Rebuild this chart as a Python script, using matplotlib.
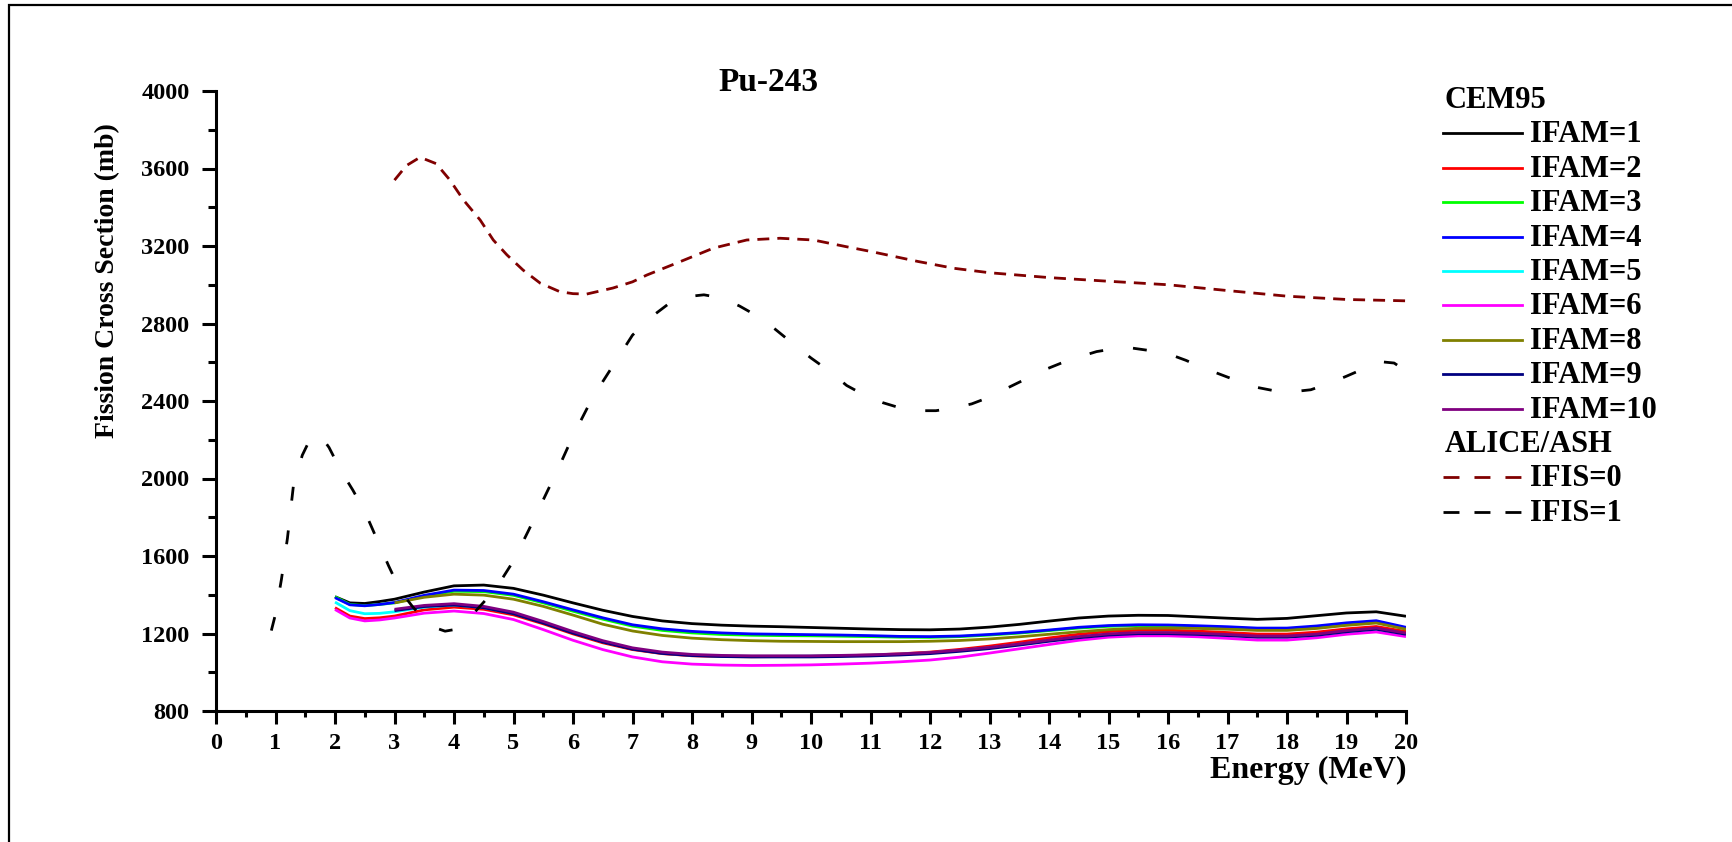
import matplotlib
matplotlib.use("Agg")
import matplotlib.pyplot as plt
import numpy as np
from matplotlib.lines import Line2D
from matplotlib.patches import Rectangle
from matplotlib.ticker import MultipleLocator

plt.rcParams['font.family'] = ['Liberation Serif', 'DejaVu Serif']
plt.rcParams['font.weight'] = 'bold'

# CEM95 energies (MeV): most runs start at 2 MeV, IFAM=8,9,10 at 3 MeV
e_from2 = [2.0, 2.25, 2.5, 2.75, 3.0, 3.5, 4.0, 4.5, 5.0, 5.5, 6.0, 6.5, 7.0, 7.5,
           8.0, 8.5, 9.0, 9.5, 10.0, 10.5, 11.0, 11.5, 12.0, 12.5, 13.0, 13.5, 14.0,
           14.5, 15.0, 15.5, 16.0, 16.5, 17.0, 17.5, 18.0, 18.5, 19.0, 19.5, 20.0]
e_from3 = e_from2[4:]

ifam1 = [1390, 1358, 1355, 1365, 1377, 1414, 1446, 1450, 1433, 1398, 1358, 1320, 1288, 1265,
         1251, 1243, 1238, 1235, 1231, 1227, 1223, 1220, 1219, 1223, 1233, 1247, 1264,
         1280, 1290, 1294, 1293, 1286, 1279, 1273, 1278, 1292, 1306, 1312, 1289]
ifam2 = [1333, 1290, 1277, 1281, 1290, 1322, 1336, 1325, 1296, 1250, 1198, 1152, 1117, 1096,
         1085, 1081, 1080, 1081, 1082, 1085, 1089, 1095, 1104, 1118, 1135, 1155, 1177,
         1196, 1210, 1217, 1217, 1212, 1205, 1197, 1197, 1207, 1224, 1236, 1210]
ifam3 = [1390, 1350, 1344, 1350, 1358, 1393, 1418, 1416, 1397, 1358, 1315, 1274, 1238, 1216,
         1203, 1195, 1191, 1189, 1188, 1186, 1184, 1181, 1180, 1184, 1192, 1202, 1215,
         1228, 1237, 1241, 1240, 1236, 1231, 1224, 1224, 1234, 1250, 1261, 1228]
ifam4 = [1385, 1348, 1343, 1350, 1360, 1397, 1424, 1422, 1403, 1364, 1322, 1281, 1245, 1224,
         1211, 1203, 1198, 1196, 1194, 1192, 1189, 1185, 1184, 1187, 1195, 1205, 1218,
         1232, 1241, 1245, 1244, 1240, 1235, 1228, 1228, 1239, 1255, 1266, 1232]
ifam5 = [1362, 1318, 1302, 1304, 1312, 1336, 1347, 1334, 1304, 1257, 1205, 1158, 1122, 1099,
         1088, 1083, 1082, 1082, 1083, 1085, 1088, 1093, 1100, 1112, 1126, 1144, 1163,
         1181, 1194, 1201, 1201, 1197, 1191, 1183, 1183, 1193, 1211, 1224, 1198]
ifam6 = [1324, 1280, 1265, 1270, 1280, 1305, 1316, 1303, 1272, 1220, 1165, 1117, 1079, 1054,
         1042, 1037, 1035, 1036, 1038, 1042, 1047, 1054, 1063, 1078, 1099, 1121, 1143,
         1165, 1181, 1188, 1188, 1183, 1175, 1166, 1166, 1178, 1196, 1208, 1184]
ifam8 = [1358, 1387, 1403, 1398, 1377, 1340, 1295, 1248, 1213, 1190,
         1176, 1168, 1163, 1160, 1159, 1158, 1158, 1158, 1160, 1164, 1172, 1183, 1196,
         1209, 1220, 1227, 1228, 1226, 1222, 1216, 1216, 1226, 1242, 1254, 1222]
ifam9 = [1318, 1339, 1347, 1333, 1302, 1254, 1202, 1156, 1119, 1097,
         1086, 1081, 1079, 1079, 1079, 1081, 1084, 1089, 1096, 1108, 1122, 1140, 1160,
         1178, 1192, 1199, 1199, 1195, 1189, 1181, 1181, 1191, 1209, 1222, 1196]
ifam10 = [1325, 1345, 1354, 1340, 1310, 1262, 1210, 1163, 1126, 1104,
          1092, 1087, 1085, 1085, 1085, 1087, 1090, 1095, 1102, 1114, 1128, 1146, 1166,
          1184, 1198, 1205, 1205, 1201, 1195, 1187, 1187, 1197, 1215, 1228, 1202]

# ALICE/ASH
e_ifis0 = [3.0, 3.2, 3.43, 3.7, 3.93, 4.16, 4.44, 4.66, 4.89, 5.16, 5.45, 5.78, 6.0, 6.23,
           6.67, 7.0, 7.24, 7.8, 8.36, 8.92, 9.48, 10.04, 10.6, 11.0, 11.8, 12.4, 13.0,
           14.0, 15.0, 16.0, 17.0, 18.0, 19.0, 20.0]
ifis0 = [3540, 3615, 3658, 3625, 3541, 3437, 3334, 3231, 3154, 3076, 3008, 2964, 2954, 2952,
         2983, 3015, 3050, 3119, 3189, 3231, 3240, 3231, 3196, 3172, 3120, 3085, 3062,
         3037, 3018, 3000, 2970, 2941, 2924, 2917]

e_ifis1 = [0.93, 1.0, 1.1, 1.2, 1.3, 1.45, 1.6, 1.75, 1.9, 2.1, 2.3, 2.5, 2.7, 2.9, 3.1, 3.3,
           3.5, 3.7, 3.85, 4.0, 4.2, 4.45, 4.7, 5.0, 5.25, 5.5, 5.75, 6.0, 6.25, 6.5, 6.75,
           7.0, 7.3, 7.6, 7.9, 8.2, 8.5, 8.8, 9.1, 9.4, 9.7, 10.0, 10.3, 10.6, 10.9, 11.2,
           11.5, 11.8, 12.1, 12.4, 12.7, 13.0, 13.3, 13.6, 13.9, 14.2, 14.5, 14.8, 15.1,
           15.4, 15.7, 16.0, 16.3, 16.6, 16.9, 17.2, 17.5, 17.8, 18.1, 18.4, 18.7, 19.0,
           19.3, 19.6, 19.8, 20.0]
ifis1 = [1215, 1300, 1480, 1690, 1960, 2120, 2215, 2225, 2160, 2040, 1940, 1830, 1690, 1550,
         1420, 1340, 1270, 1228, 1212, 1220, 1260, 1345, 1430, 1575, 1730, 1890, 2050,
         2220, 2370, 2500, 2620, 2740, 2830, 2900, 2938, 2948, 2932, 2890, 2838, 2770,
         2695, 2622, 2556, 2480, 2430, 2392, 2364, 2350, 2350, 2364, 2385, 2420, 2467,
         2512, 2558, 2595, 2627, 2655, 2670, 2673, 2660, 2644, 2610, 2570, 2535, 2500,
         2470, 2452, 2448, 2458, 2490, 2528, 2568, 2602, 2596, 2555]

cem_series = [
    ("IFAM=1", e_from2, ifam1, "#000000"),
    ("IFAM=2", e_from2, ifam2, "#FF0000"),
    ("IFAM=3", e_from2, ifam3, "#00FF00"),
    ("IFAM=4", e_from2, ifam4, "#0000FF"),
    ("IFAM=5", e_from2, ifam5, "#00FFFF"),
    ("IFAM=6", e_from2, ifam6, "#FF00FF"),
    ("IFAM=8", e_from3, ifam8, "#808000"),
    ("IFAM=9", e_from3, ifam9, "#000080"),
    ("IFAM=10", e_from3, ifam10, "#800080"),
]
alice_series = [
    ("IFIS=0", e_ifis0, ifis0, "#800000", (0, (4.3, 2.9))),
    ("IFIS=1", e_ifis1, ifis1, "#000000", (0, (5, 10.8))),
]

W, H = 1733, 842
fig = plt.figure(figsize=(W / 100, H / 100), dpi=100)
ax = fig.add_axes([216 / W, 1 - 711 / H, 1190 / W, 620 / H])

for label, x, y, c in cem_series:
    ax.plot(x, y, color=c, lw=2.0, solid_capstyle='butt')
for label, x, y, c, ls in alice_series:
    ax.plot(x, y, color=c, lw=2.0, linestyle=ls, dash_capstyle='butt')

ax.set_xlim(0, 20)
ax.set_ylim(800, 4000)
ax.xaxis.set_major_locator(MultipleLocator(1))
ax.xaxis.set_minor_locator(MultipleLocator(0.5))
ax.yaxis.set_major_locator(MultipleLocator(400))
ax.yaxis.set_minor_locator(MultipleLocator(200))

for side in ("top", "right"):
    ax.spines[side].set_visible(False)
for side in ("left", "bottom"):
    ax.spines[side].set_linewidth(2.2)

ax.tick_params(axis='x', which='major', direction='out', length=9, width=2.2, pad=6.5, labelsize=17.5)
ax.tick_params(axis='x', which='minor', direction='out', length=4.3, width=2.2)
ax.tick_params(axis='y', which='major', direction='out', length=10, width=2.2, pad=9, labelsize=17.5)
ax.tick_params(axis='y', which='minor', direction='out', length=5.5, width=2.2)

ax.set_xlabel("Energy (MeV)", fontsize=23, fontweight='bold', ha='right', va='baseline')
ax.xaxis.set_label_coords(1.0, -0.108)
ax.set_ylabel("Fission Cross Section (mb)", fontsize=20, fontweight='bold', ha='center', va='center')
ax.yaxis.set_label_coords(-0.091, 0.694)

ax.text(0.464, 1.0, "Pu-243", transform=ax.transAxes, ha='center', va='baseline',
        fontsize=24, fontweight='bold')

# legend laid out as two titled groups
row0, step = 99, 34.4
hx0, hx1, tx, headx = 1443 / W, 1522 / W, 1530 / W, 1445 / W
legend_rows = [("CEM95", None, None)]
legend_rows += [(lab, c, '-') for lab, _, _, c in cem_series]
legend_rows += [("ALICE/ASH", None, None)]
legend_rows += [(lab, c, (0, (5.75, 5.4))) for lab, _, _, c, _ in alice_series]
for k, (lab, c, ls) in enumerate(legend_rows):
    yc = row0 + step * k
    yb = 1 - (yc + 9) / H
    if c is None:
        fig.text(headx, yb, lab, ha='left', va='baseline', fontsize=22, fontweight='bold')
        continue
    fig.add_artist(Line2D([hx0, hx1], [1 - yc / H, 1 - yc / H], color=c, lw=2.0,
                          linestyle=ls, transform=fig.transFigure))
    fig.text(tx, yb, lab, ha='left', va='baseline', fontsize=22, fontweight='bold')

# page frame
fig.add_artist(Rectangle((9 / W, -0.1), 1.2, 1.1 - 4.5 / H, transform=fig.transFigure,
                         fill=False, lw=1.6, edgecolor='black', clip_on=False))

fig.savefig("out.png", dpi=100)
